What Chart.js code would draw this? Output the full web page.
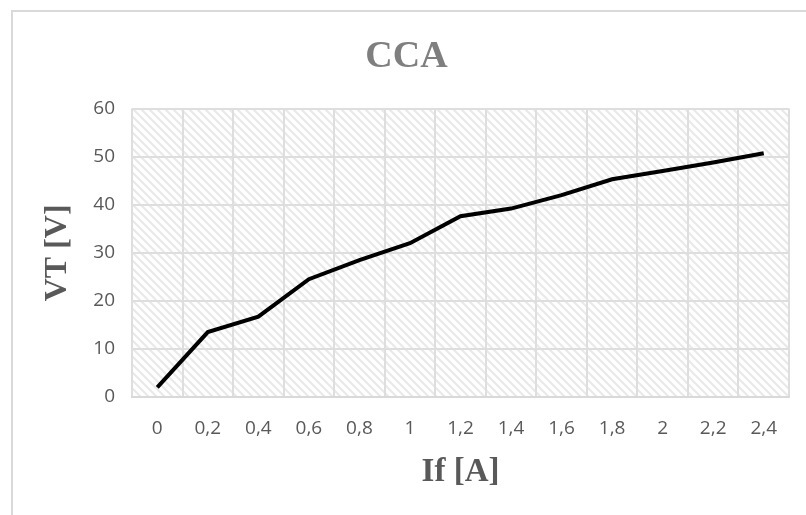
<!DOCTYPE html>
<html>
<head>
<meta charset="utf-8">
<script src="https://cdn.jsdelivr.net/npm/chart.js@4/dist/chart.umd.min.js"></script>
<style>
  html, body { margin: 0; padding: 0; background: #fff; }
  #wrap { position: relative; width: 806px; height: 515px; overflow: hidden; }
  #frame { position: absolute; left: 11px; top: 10px; width: 820px; height: 540px;
           border-left: 2px solid #d9d9d9; border-top: 2px solid #d9d9d9; }
  canvas { position: absolute; left: 0; top: 0; }
</style>
</head>
<body>
<div id="wrap">
  <div id="frame"></div>
  <canvas id="cca" width="806" height="515"></canvas>
</div>
<script>
// data
const currents = ['0', '0,2', '0,4', '0,6', '0,8', '1', '1,2', '1,4', '1,6', '1,8', '2', '2,2', '2,4']
const voltages = [2, 13.5, 16.7, 24.5, 28.5, 32, 37.6, 39.2, 42, 45.3, 47, 48.8, 50.7]
const yTicks = [0, 10, 20, 30, 40, 50, 60]

// diagonal hatch for the plot area
const makeHatch = () => {
    let tile = document.createElement('canvas')
    tile.width = 8
    tile.height = 8
    let c = tile.getContext('2d')
    c.fillStyle = '#ffffff'
    c.fillRect(0, 0, 8, 8)
    c.strokeStyle = '#e9e9e9'
    c.lineWidth = 2.2
    c.beginPath()
    c.moveTo(-2, -2); c.lineTo(10, 10)
    c.moveTo(-2, 6); c.lineTo(2, 10)
    c.moveTo(6, -2); c.lineTo(10, 2)
    c.stroke()
    return tile
}

const hatchPlugin = {
    id: 'hatch',
    beforeDraw: (chart) => {
        let {ctx, chartArea} = chart
        ctx.save()
        ctx.fillStyle = ctx.createPattern(makeHatch(), 'repeat')
        ctx.fillRect(chartArea.left, chartArea.top, chartArea.right - chartArea.left, chartArea.bottom - chartArea.top)
        ctx.restore()
    }
}

let canvas = document.querySelector('canvas#cca')
var chart = new Chart(canvas, {
    type: 'line',
    data: {
        labels: currents,
        datasets: [{
            label: 'VT',
            data: voltages,
            borderColor: '#000000',
            borderWidth: 4,
            pointRadius: 0,
            tension: 0,
            fill: false
        }]
    },
    plugins: [hatchPlugin],
    options: {
        responsive: false,
        animation: false,
        layout: {
            padding: { left: 24, right: 17, top: 10, bottom: 0 }
        },
        plugins: {
            legend: { display: false },
            tooltip: { enabled: false },
            title: {
                display: true,
                text: 'CCA',
                color: '#7f7f7f',
                font: { family: 'Liberation Serif', size: 38, weight: 'bold' },
                padding: { top: 24, bottom: 29 }
            }
        },
        scales: {
            x: {
                offset: true,
                grid: { offset: true, color: '#dedede', lineWidth: 2, drawTicks: false },
                border: { color: '#d9d9d9', width: 2 },
                ticks: {
                    color: '#595959',
                    font: { family: 'Open Sans', size: 19 },
                    padding: 20,
                    maxRotation: 0,
                    autoSkip: false
                },
                title: {
                    display: true,
                    text: 'If [A]',
                    color: '#595959',
                    font: { family: 'Liberation Serif', size: 33, weight: 'bold' },
                    padding: { top: 0, bottom: 23 }
                },
                afterFit: (s) => { s.height = 118 }
            },
            y: {
                min: 0,
                max: 60,
                afterBuildTicks: (s) => { s.ticks = yTicks.map(v => ({ value: v })) },
                grid: { color: '#dedede', lineWidth: 2, drawTicks: false },
                border: { display: false },
                ticks: {
                    color: '#595959',
                    font: { family: 'Open Sans', size: 19 },
                    padding: 17
                },
                title: {
                    display: true,
                    text: 'VT [V]',
                    color: '#595959',
                    font: { family: 'Liberation Serif', size: 32, weight: 'bold' },
                    padding: { top: 15, bottom: 0 }
                },
                afterFit: (s) => { s.width = 108 }
            }
        }
    }
})
</script>
</body>
</html>
